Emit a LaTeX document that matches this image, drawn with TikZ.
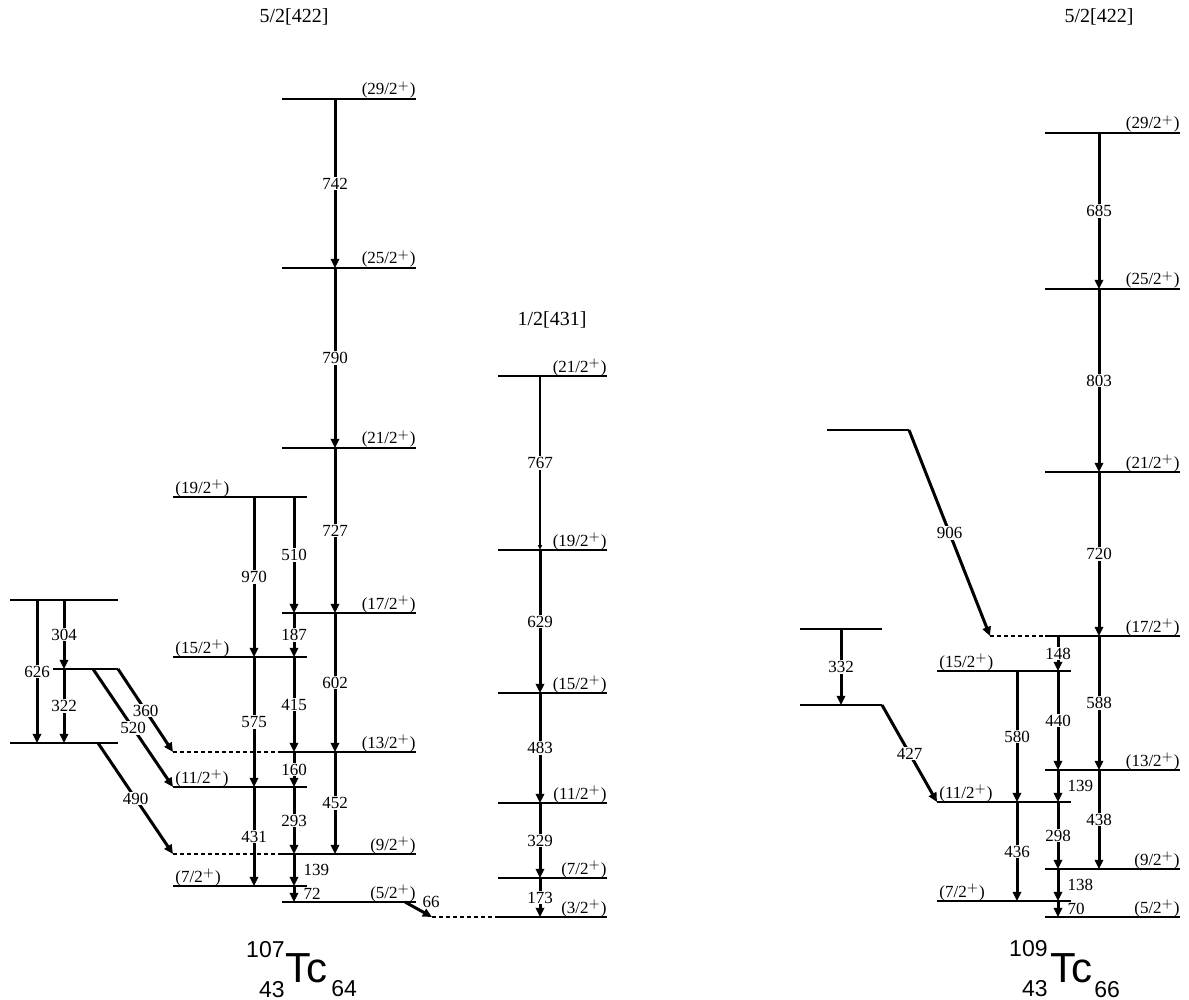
\documentclass[tikz,border=0pt]{standalone}
\usepackage{fontspec}
\setmainfont{Liberation Serif}
\newfontfamily\nucfont{Liberation Sans}
\usetikzlibrary{arrows.meta}

\begin{document}
\begin{tikzpicture}[x=0.5pt,y=-0.5pt,
		lvl/.style={line width=0.65pt},
		gap/.style={line width=0.65pt, dash pattern=on 2pt off 1.5pt},
		gam/.style={line width=1.5pt, -{Triangle[length=4.6pt,width=4.2pt]}},
		weakgam/.style={line width=0.6pt, -{Triangle[length=2.5pt,width=2pt]}},
		elab/.style={fill=white, inner sep=0.6pt, font=\fontsize{8.5}{9}\selectfont},
		slab/.style={inner sep=0pt, anchor=west, xshift=4pt, font=\fontsize{8.5}{9}\selectfont},
		jlab/.style={inner sep=0pt, font=\fontsize{8.5}{9}\selectfont},
		band/.style={inner sep=0pt, font=\fontsize{10}{12}\selectfont}]
			\useasboundingbox (0,0) rectangle (1189,1000);
			
			% 107Tc, 5/2[422] band
			\foreach \y/\j in {99/29,268/25,448/21,613/17,752/13,854/9,902/5}{
				\draw[lvl] (282,\y) -- (416,\y);
				\node[jlab, anchor=base east] (a\j) at (416,\y-4) {(\j/2$^+$)};
			}
			\foreach \y/\j in {497/19,657/15,787/11,886/7}{
				\draw[lvl] (173,\y) -- (307,\y);
				\node[jlab, anchor=base west] (b\j) at (175,\y-4) {(\j/2$^+$)};
			}
			\draw[gap] (173,752) -- (282,752);
			\draw[gap] (173,854) -- (282,854);
			
			% side levels
			\draw[lvl] (10,600) -- (118,600);
			\draw[lvl] (53,669) -- (118,669);
			\draw[lvl] (10,743) -- (118,743);
			
			% 107Tc, 1/2[431] band
			\foreach \y/\j in {376/21,550/19,693/15,803/11,878/7,917/3}{
				\draw[lvl] (498,\y) -- (607,\y);
				\node[jlab, anchor=base east] (c\j) at (607,\y-4) {(\j/2$^+$)};
			}
			\draw[gap] (432,917) -- (498,917);
			
			% 107Tc transitions
			\foreach \x/\a/\b/\e in {335/99/268/742, 335/268/448/790, 335/448/613/727, 335/613/752/602, 335/752/854/452,
				254/497/657/970, 254/657/787/575, 254/787/886/431,
				294/497/613/510, 294/613/657/187, 294/657/752/415, 294/752/787/160, 294/787/854/293,
				37/600/743/626, 64/600/669/304, 64/669/743/322,
				540/550/693/629, 540/693/803/483, 540/803/878/329, 540/878/917/173}
				\draw[gam] (\x,\a) -- node[elab] (g\e) {\e} (\x,\b);
			\draw[weakgam] (540,376) -- node[elab] (g767) {767} (540,550);
			\draw[gam] (294,854) -- node[slab] (g139) {139} (294,886);
			\draw[gam] (294,886) -- node[slab] (g72) {72} (294,902);
			\draw[gam] (118,669) -- node[elab] (g360) {360} (173,752);
			\draw[gam] (93,669) -- node[elab] (g520) {520} (173,787);
			\draw[gam] (98,743) -- node[elab] (g490) {490} (173,854);
			\draw[gam] (405,902) -- (432,917);
			\node[jlab] (g66) at (431,902) {66};
			
			% 109Tc, 5/2[422] band
			\foreach \y/\j in {133/29,289/25,472/21,636/17,770/13,869/9,917/5}{
				\draw[lvl] (1045,\y) -- (1180,\y);
				\node[jlab, anchor=base east] (d\j) at (1180,\y-4) {(\j/2$^+$)};
			}
			\foreach \y/\j in {671/15,802/11,901/7}{
				\draw[lvl] (937,\y) -- (1071,\y);
				\node[jlab, anchor=base west] (e\j) at (939,\y-4) {(\j/2$^+$)};
			}
			\draw[gap] (990,636) -- (1045,636);
			\draw[lvl] (827,430) -- (909,430);
			\draw[lvl] (800,629) -- (882,629);
			\draw[lvl] (800,705) -- (882,705);
			
			% 109Tc transitions
			\foreach \x/\a/\b/\e in {1099/133/289/685, 1099/289/472/803, 1099/472/636/720, 1099/636/770/588, 1099/770/869/438,
				1058/636/671/148, 1058/671/770/440, 1058/802/869/298,
				1017/671/802/580, 1017/802/901/436, 841/629/705/332}
				\draw[gam] (\x,\a) -- node[elab] (h\e) {\e} (\x,\b);
			\draw[gam] (1058,770) -- node[slab] (h139) {139} (1058,802);
			\draw[gam] (1058,869) -- node[slab] (h138) {138} (1058,901);
			\draw[gam] (1058,901) -- node[slab] (h70) {70} (1058,917);
			\draw[gam] (909,430) -- node[elab] (h906) {906} (990,636);
			\draw[gam] (882,705) -- node[elab] (h427) {427} (937,802);
			
			% band names
			\node[band] (bandA) at (294,17) {5/2[422]};
			\node[band] (bandC) at (552,320) {1/2[431]};
			\node[band] (bandD) at (1099,17) {5/2[422]};
			
			% nuclei
			\node[inner sep=0pt, anchor=base west, font=\nucfont\fontsize{21}{21}\selectfont] (tcA) at (285,982) {Tc};
			\node[inner sep=0pt, anchor=base east, font=\nucfont\fontsize{11.5}{12}\selectfont] (tcAm) at (285,957) {107};
			\node[inner sep=0pt, anchor=base east, font=\nucfont\fontsize{11.5}{12}\selectfont] (tcAz) at (285,997) {43};
			\node[inner sep=0pt, anchor=base west, font=\nucfont\fontsize{11.5}{12}\selectfont] (tcAn) at (331,996) {64};
			\node[inner sep=0pt, anchor=base west, font=\nucfont\fontsize{21}{21}\selectfont] (tcB) at (1050,982) {Tc};
			\node[inner sep=0pt, anchor=base east, font=\nucfont\fontsize{11.5}{12}\selectfont] (tcBm) at (1048,956) {109};
			\node[inner sep=0pt, anchor=base east, font=\nucfont\fontsize{11.5}{12}\selectfont] (tcBz) at (1048,996) {43};
			\node[inner sep=0pt, anchor=base west, font=\nucfont\fontsize{11.5}{12}\selectfont] (tcBn) at (1094,997) {66};
			\end{tikzpicture}
\end{document}
